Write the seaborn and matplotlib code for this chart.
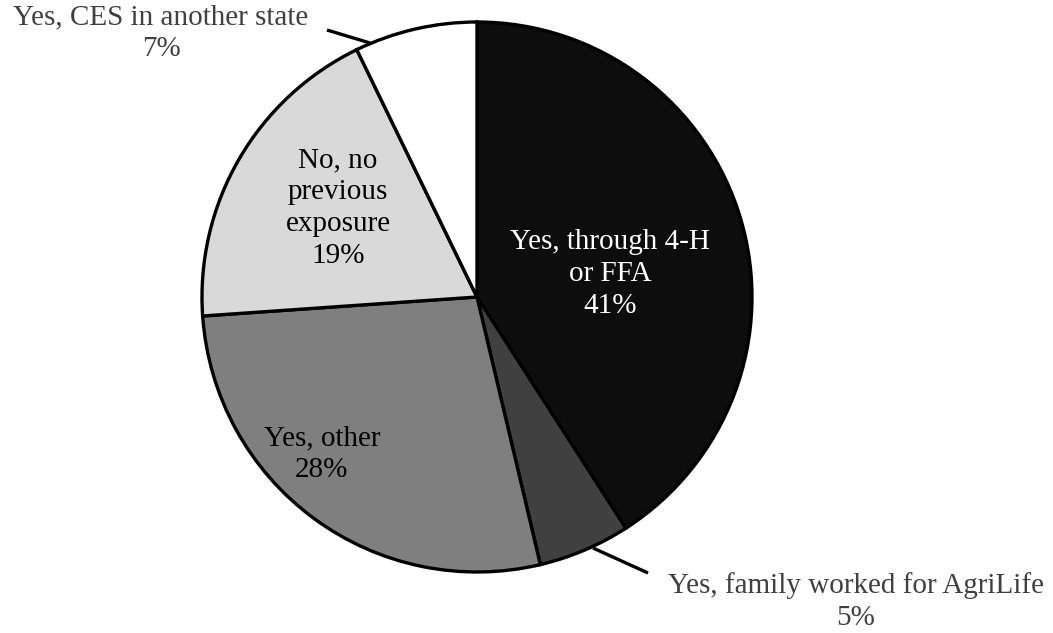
import matplotlib
matplotlib.use("Agg")
import matplotlib.pyplot as plt
import seaborn as sns

# Data
categories = ["Yes, through 4-H\nor FFA", "Yes, family worked for AgriLife",
              "Yes, other", "No, no\nprevious\nexposure", "Yes, CES in another state"]
shares = [40.9, 5.4, 27.6, 18.9, 7.2]
shown_pct = [41, 5, 28, 19, 7]

sns.set_theme(style="white")
plt.rcParams["font.family"] = ["Liberation Serif", "DejaVu Serif"]

colors = ["#0d0d0d", "#404040", "#7f7f7f", "#d9d9d9", "#ffffff"]
text_colors = ["#ffffff", "#404040", "#000000", "#000000", "#404040"]

fig = plt.figure(figsize=(10.53, 6.33), dpi=100)
ax = fig.add_axes([0, 0, 1, 1])

wedges, _ = ax.pie(shares, colors=colors, startangle=90, counterclock=False,
                   radius=1.0,
                   wedgeprops=dict(edgecolor="black", linewidth=2.4))

ax.set_xlim(-477 / 275, (1053 - 477) / 275)
ax.set_ylim(-(633 - 297) / 275, 297 / 275)
ax.set_aspect("auto")
ax.axis("off")

label_pos = [(0.484, 0.084), (1.378, -1.108), (-0.564, -0.571),
             (-0.505, 0.324), (-1.149, 0.96)]
fs = 21
for i, (cat, pct) in enumerate(zip(categories, shown_pct)):
    x, y = label_pos[i]
    ax.text(x, y, f"{cat}\n{pct}%", ha="center", va="center", fontsize=fs,
            color=text_colors[i], linespacing=1.3)

# leader lines
def px2d(px, py):
    return ((px - 477) / 275, (297 - py) / 275)

for (a, b) in [((327, 30), (370, 43)), ((593, 548), (648, 573))]:
    p1 = px2d(*a)
    p2 = px2d(*b)
    ax.plot([p1[0], p2[0]], [p1[1], p2[1]], color="black", lw=2.4,
            solid_capstyle="butt")

fig.savefig("out.png", dpi=100)
